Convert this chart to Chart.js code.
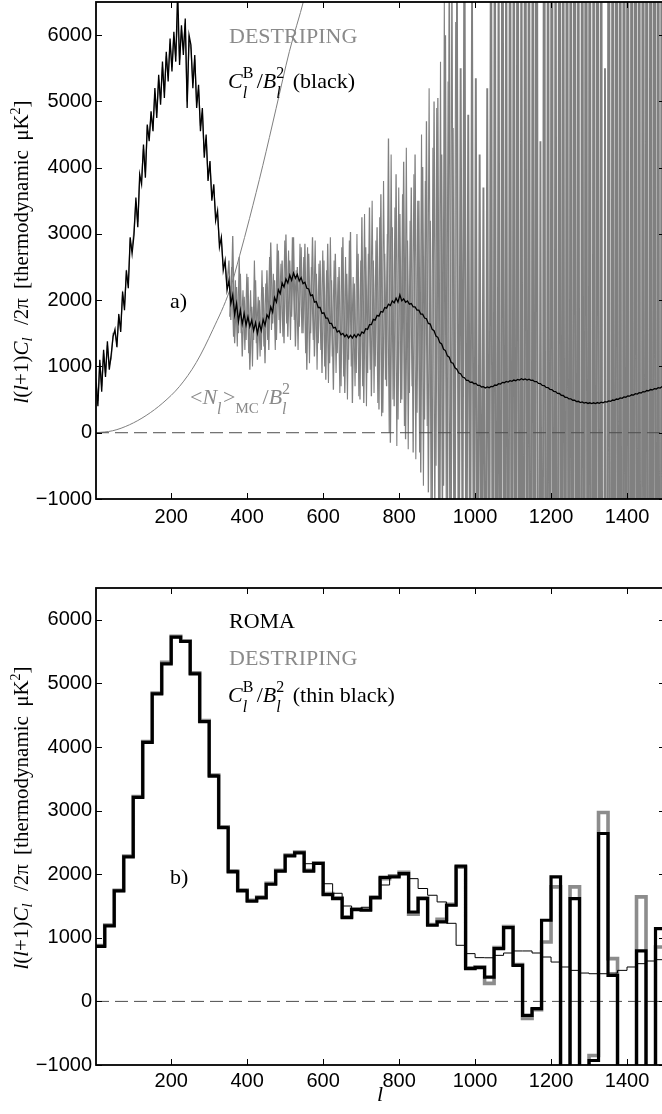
<!DOCTYPE html>
<html lang="en">
<head>
<meta charset="UTF-8">
<meta name="viewport" content="width=device-width, initial-scale=1.0">
<title>Power spectrum: destriping vs ROMA</title>
<script src="https://cdn.jsdelivr.net/npm/chart.js"></script>
<style>
    html, body { margin: 0; padding: 0; background: #fff; overflow: hidden; }
    body { position: relative; width: 662px; height: 1114px; }
    canvas { position: absolute; left: 0; }
    #chartA { top: 0; }
    #chartB { top: 560px; }
    .lbl {
        position: absolute;
        font-family: 'Liberation Serif', 'Times New Roman', serif;
        font-size: 22px;
        line-height: 22px;
        white-space: nowrap;
        color: #000;
    }
    .grey { color: #8a8a8a; }
    .ss { display: inline-block; position: relative; height: 0; }
    .ss > span { position: absolute; left: 0; font-size: 16px; line-height: 16px; }
    .ss .up { bottom: 7px; }
    .ss .dn { bottom: -13px; }
    .ss .mc { bottom: -12px; font-size: 15px; line-height: 15px; }
    .ylab {
        position: absolute;
        font-family: 'Liberation Serif', 'Times New Roman', serif;
        font-size: 21px;
        line-height: 21px;
        word-spacing: 4px;
        white-space: nowrap;
        transform: translate(-50%, -50%) rotate(-90deg);
    }
    .ylab .sb { font-size: 15px; vertical-align: -4px; margin-right: 3px; }
    .ylab .sp { font-size: 14px; vertical-align: 8px; }
</style>
</head>
<body>
    <canvas id="chartA" width="668" height="545"></canvas>
    <canvas id="chartB" width="668" height="554"></canvas>

    <!-- panel a) -->
    <div class="lbl grey" style="left:229px; top:25px">DESTRIPING</div>
    <div class="lbl" style="left:228px; top:70px"><i>C</i><span class="ss" style="width:14px"><span class="up">B</span><span class="dn"><i>l</i></span></span>/<i>B</i><span class="ss" style="width:11px"><span class="up">2</span><span class="dn"><i>l</i></span></span> (black)</div>
    <div class="lbl" style="left:170px; top:290px">a)</div>
    <div class="lbl grey" style="left:190px; top:386px">&lt;<i>N</i><span class="ss" style="width:6px"><span class="dn"><i>l</i></span></span>&gt;<span class="ss" style="width:27px"><span class="mc">MC</span></span>/<i>B</i><span class="ss" style="width:10px"><span class="up">2</span><span class="dn"><i>l</i></span></span></div>
    <div class="ylab" style="left:21px; top:252px"><i>l</i>(<i>l</i>+1)<i>C</i><span class="sb"><i>l</i></span> /2π [thermodynamic μK<span class="sp">2</span>]</div>

    <!-- panel b) -->
    <div class="lbl" style="left:229px; top:610px">ROMA</div>
    <div class="lbl grey" style="left:229px; top:647px">DESTRIPING</div>
    <div class="lbl" style="left:228px; top:684px"><i>C</i><span class="ss" style="width:14px"><span class="up">B</span><span class="dn"><i>l</i></span></span>/<i>B</i><span class="ss" style="width:11px"><span class="up">2</span><span class="dn"><i>l</i></span></span> (thin black)</div>
    <div class="lbl" style="left:170px; top:866px">b)</div>
    <div class="ylab" style="left:21px; top:818px"><i>l</i>(<i>l</i>+1)<i>C</i><span class="sb"><i>l</i></span> /2π [thermodynamic μK<span class="sp">2</span>]</div>
    <div class="lbl" style="left:377px; top:1083px"><i>l</i></div>

    <script>
        // axes
        const lMin = 2, lMax = 1500;
        const yMin = -1000, yMax = 6500;
        const xTicks = [200, 400, 600, 800, 1000, 1200, 1400];
        const yTicks = [-1000, 0, 1000, 2000, 3000, 4000, 5000, 6000];

        // panel a): unbinned spectra, one value every 5 multipoles from l = 2
        const lStart = 2, lStep = 5;
        const cbTop = [
            760, 400, 1100, 620, 1250, 840, 1380, 950, 1180, 1450,
            1560, 1290, 1790, 1520, 2130, 1850, 2450, 2180, 2950, 2700,
            2980, 3550, 3100, 3900, 3750, 4350, 3850, 4650, 4400, 4850,
            4550, 5200, 4750, 5400, 4950, 5600, 5050, 5750, 5300, 5950,
            5450, 6050, 5600, 6700, 5550, 6150, 5700, 6250, 4900, 6000,
            5850, 5200, 5700, 4900, 5250, 4550, 4900, 4150, 4500, 3800,
            4100, 3500, 3750, 3200, 3350, 2800, 2950, 2450, 2600, 2150,
            2300, 1950, 2080, 1780, 1950, 1680, 1850, 1640, 1800, 1620,
            1750, 1600, 1700, 1540, 1660, 1500, 1650, 1540, 1710, 1620,
            1780, 1730, 1900, 1820, 2040, 1970, 2160, 2100, 2260, 2200,
            2320, 2260, 2380, 2300, 2410, 2330, 2390, 2290, 2340, 2250,
            2270, 2180, 2170, 2070, 2080, 1970, 1980, 1890, 1890, 1800,
            1810, 1730, 1730, 1650, 1650, 1580, 1590, 1520, 1540, 1480,
            1500, 1450, 1480, 1430, 1470, 1430, 1480, 1440, 1490, 1460,
            1520, 1500, 1570, 1560, 1630, 1630, 1710, 1700, 1770, 1760,
            1830, 1820, 1890, 1880, 1940, 1920, 1990, 1960, 2030, 1970,
            2080, 1990, 2020, 1970, 1990, 1940, 1950, 1900, 1900, 1850,
            1850, 1790, 1790, 1730, 1720, 1650, 1640, 1560, 1540, 1460,
            1440, 1360, 1340, 1260, 1240, 1160, 1140, 1060, 1050, 980,
            960, 900, 890, 840, 830, 790, 790, 760, 765, 740,
            745, 715, 715, 690, 695, 675, 690, 680, 700, 695,
            720, 715, 740, 735, 760, 755, 775, 765, 785, 775,
            795, 785, 805, 795, 815, 800, 812, 795, 808, 790,
            792, 770, 772, 745, 742, 715, 712, 684, 682, 655,
            652, 625, 622, 594, 592, 565, 562, 535, 535, 510,
            512, 490, 492, 470, 475, 456, 464, 447, 457, 442,
            452, 440, 452, 440, 455, 444, 461, 452, 470, 462,
            481, 474, 494, 488, 509, 504, 525, 520, 541, 536,
            557, 552, 573, 568, 589, 584, 605, 600, 621, 616,
            637, 632, 652, 646, 666, 660, 680, 674, 695, 690
        ];
        const destripingTop = [
            820, 480, 1050, 700, 1200, 900, 1320, 1010, 1120, 1500,
            1500, 1350, 1740, 1600, 2080, 1920, 2400, 2250, 2880, 2780,
            3050, 3480, 3180, 3820, 3830, 4280, 3930, 4580, 4480, 4780,
            4620, 5120, 4830, 5330, 5030, 5520, 5140, 5680, 5380, 5870,
            5520, 5980, 5680, 6300, 5630, 6080, 5780, 6180, 5000, 5930,
            5780, 5280, 5630, 4980, 5180, 4630, 4830, 4230, 4430, 3880,
            4030, 3580, 3680, 3280, 3280, 2880, 2880, 2530, 2530, 2230,
            2600, 1700, 2970, 1350, 2200, 1500, 2400, 1150, 2050, 1400,
            2350, 950, 1900, 1400, 2300, 1100, 2000, 1250, 2200, 1050,
            2450, 1250, 2870, 1650, 2300, 1400, 2750, 1500, 2600, 1350,
            2990, 1450, 2600, 1750, 2950, 1300, 2500, 1600, 2800, 1500,
            2850, 950, 2700, 1500, 2950, 1150, 2400, 1350, 2600, 900,
            2600, 800, 2850, 1050, 2300, 650, 2700, 1200, 2500, 700,
            2950, 600, 2400, 1100, 3030, 450, 2250, 900, 2700, 500,
            3250, 450, 2800, 900, 3400, 550, 2600, 1000, 3100, 350,
            3600, 300, 2700, 700, 4440, -150, 3100, 400, 3900, 200,
            3300, 500, 4090, -100, 2900, 600, 3700, -300, 4200, 300,
            3500, -600, 4010, 200, 4700, -900, 3200, -1300, 5000, -500,
            5050, -1800, 4200, -800, 6000, -2200, 7200, -1500, 4600, -2600,
            7000, -3000, 5500, -2000, 8000, -3500, 4800, -2800, 6500, -4000,
            5350, -5000, 4200, -3500, 3700, -6000, 5200, -4500, 9000, -7000,
            9000, -8000, 7500, -9000, 12000, -7500, 8500, -10000, 11000, -8500,
            10000, -9000, 13000, -11000, 9000, -12000, 14000, -9500, 11000, -13000,
            12000, -10000, 15000, -12000, 4400, -9000, 13000, -14000, 11000, -10500,
            14000, -12000, 10000, -15000, 16000, -11000, 12000, -13000, 15000, -12500,
            13000, -14000, 17000, -12000, 11000, -16000, 14000, -13000, 18000, -15000,
            15000, -17000, 12000, -14000, 19000, -16000, 13000, -18000, 5500, -15000,
            17000, -19000, 14000, -16000, 20000, -18000, 16000, -20000, 18000, -17000,
            19000, -21000, 16000, -18000, 22000, -20000, 17000, -22000, 20000, -19000,
            21000, -23000, 18000, -20000, 24000, -22000, 19000, -24000, 22000, -21000
        ];

        // extra destriping samples in the noisy mid range, l = 354, 359, ..., 949
        const lMidStart = 354;
        const destripingMid = [
            1750, 2500, 1450, 2300, 1300, 2650, 1500, 2150, 1250, 2400,
            1200, 2150, 1000, 2600, 1350, 2050, 1150, 2450, 1300, 2250,
            1400, 2650, 1550, 2400, 1250, 2850, 1700, 2550, 1450, 2900,
            1650, 2750, 1400, 2950, 1700, 2450, 1250, 2850, 1500, 2650,
            1200, 2800, 1050, 2500, 1400, 2900, 950, 2550, 1250, 2750,
            1000, 2450, 750, 2950, 1150, 2600, 900, 2350, 600, 2800,
            850, 2650, 500, 2900, 1000, 2350, 700, 3000, 550, 2600,
            700, 3300, 400, 2700, 950, 3500, 600, 2900, 450, 3250,
            250, 3800, 800, 3000, 0, 4200, 500, 3400, -200, 3700,
            450, 3600, 100, 4300, -250, 3200, 700, 3900, -400, 3500,
            -300, 4500, -800, 3800, 100, 5200, -1100, 4300, -1500, 4900,
            -1200, 5600, -2000, 6500, -1000, 5300, -2400, 7500, -1700, 6200
        ];

        // noise estimate <N_l>_MC / B_l^2
        const lNoise = [2, 46, 90, 134, 178, 222, 266, 310, 354, 380, 406, 441, 476, 511, 550, 580];
        const noiseMC = [0, 30, 120, 260, 450, 700, 1060, 1560, 2150, 2670, 3230, 4030, 4890, 5750, 6550, 7300];

        // zero reference
        const zeroL = [2, 1500];
        const zeroV = [0, 0];

        // panel b): binned spectra (lower edge of each bin)
        const binLow = [
            2, 25, 50, 75, 100, 125, 150, 175, 200, 225,
            250, 275, 300, 325, 350, 375, 400, 425, 450, 475,
            500, 525, 550, 575, 600, 625, 650, 675, 700, 725,
            750, 775, 800, 825, 850, 875, 900, 925, 950, 975,
            1000, 1025, 1050, 1075, 1100, 1125, 1150, 1175, 1200, 1225,
            1250, 1275, 1300, 1325, 1350, 1375, 1400, 1425, 1450, 1475
        ];
        const romaB = [
            866, 1186, 1737, 2273, 3207, 4073, 4835, 5307, 5727, 5659,
            5150, 4399, 3543, 2730, 2037, 1737, 1575, 1627, 1842, 2047,
            2289, 2336, 2047, 2168, 1680, 1617, 1318, 1444, 1433, 1627,
            1950, 1958, 2010, 1406, 1617, 1197, 1249, 1512, 2126, 514,
            530, 383, 829, 1160, 567, -220, -115, 1276, 1958, -3000,
            1617, -3000, -929, 2640, 409, -3000, -3000, 793, -3000, 1144
        ];
        const destripingB = [
            880, 1200, 1745, 2285, 3220, 4085, 4850, 5330, 5740, 5670,
            5165, 4415, 3560, 2745, 2050, 1750, 1590, 1640, 1855, 2060,
            2300, 2350, 2060, 2180, 1695, 1630, 1330, 1455, 1445, 1640,
            1930, 1975, 2030, 1370, 1630, 1210, 1291, 1525, 2110, 530,
            545, 283, 845, 1175, 580, -270, -130, 934, 1800, -3000,
            1800, -3000, -850, 2971, 672, -3000, -3000, 1643, -3000, 855
        ];
        const thinB = [
            870, 1190, 1740, 2270, 3200, 4070, 4830, 5300, 5720, 5650,
            5160, 4410, 3560, 2750, 2060, 1760, 1590, 1640, 1850, 2050,
            2290, 2330, 2165, 2170, 1850, 1700, 1500, 1440, 1480, 1650,
            1830, 1950, 1990, 1930, 1775, 1669, 1564, 1228, 882, 751,
            688, 686, 724, 761, 793, 793, 761, 698, 619, 541,
            488, 446, 435, 435, 446, 488, 541, 593, 635, 656
        ];

        const lGrid = cbTop.map((_, i) => lStart + i * lStep);
        const lMidGrid = destripingMid.map((_, i) => lMidStart + i * lStep);

        function pts(xs, ys) {
            return xs.map((x, i) => ({ x: x, y: ys[i] }));
        }

        function stepPts(vals) {
            const p = binLow.map((l, i) => ({ x: l, y: vals[i] }));
            p.push({ x: lMax, y: vals[vals.length - 1] });
            return p;
        }

        function fmtTick(v) {
            return v < 0 ? '\u2212' + Math.abs(v) : String(v);
        }

        const tickFont = { family: "'Liberation Sans', Arial, sans-serif", size: 20 };

        // box around the plot with inward ticks on all four sides
        const frame = {
            id: 'frame',
            afterDraw(chart) {
                const ctx = chart.ctx;
                const a = chart.chartArea;
                const x = chart.scales.x, y = chart.scales.y;
                ctx.save();
                ctx.strokeStyle = '#000';
                ctx.lineWidth = 1;
                ctx.beginPath();
                xTicks.forEach(v => {
                    const px = Math.round(x.getPixelForValue(v)) + 0.5;
                    ctx.moveTo(px, a.bottom); ctx.lineTo(px, a.bottom - 6);
                    ctx.moveTo(px, a.top); ctx.lineTo(px, a.top + 6);
                });
                yTicks.forEach(v => {
                    const py = Math.round(y.getPixelForValue(v)) + 0.5;
                    ctx.moveTo(a.left, py); ctx.lineTo(a.left + 6, py);
                    ctx.moveTo(a.right, py); ctx.lineTo(a.right - 6, py);
                });
                ctx.stroke();
                ctx.lineWidth = 1.8;
                ctx.strokeRect(a.left, a.top, a.right - a.left, a.bottom - a.top);
                ctx.restore();
            }
        };

        function makePanel(id, datasets, padTop, xAxisHeight, xLabelPad) {
            return new Chart(document.getElementById(id), {
                type: 'line',
                data: { datasets: datasets },
                options: {
                    responsive: false,
                    animation: false,
                    events: [],
                    layout: { padding: { top: padTop, right: 3, left: 0, bottom: 0 } },
                    elements: { point: { radius: 0 }, line: { tension: 0, fill: false } },
                    plugins: { legend: { display: false }, tooltip: { enabled: false } },
                    scales: {
                        x: {
                            type: 'linear', min: lMin, max: lMax,
                            grid: { display: false, drawTicks: false },
                            border: { display: false },
                            ticks: { font: tickFont, color: '#000', padding: xLabelPad, maxRotation: 0, autoSkip: false, callback: v => fmtTick(v) },
                            afterBuildTicks: s => { s.ticks = xTicks.map(v => ({ value: v })); },
                            afterFit: s => { s.height = xAxisHeight; s.paddingLeft = 0; s.paddingRight = 0; }
                        },
                        y: {
                            type: 'linear', min: yMin, max: yMax,
                            grid: { display: false, drawTicks: false },
                            border: { display: false },
                            ticks: { font: tickFont, color: '#000', padding: 4, callback: v => fmtTick(v) },
                            afterBuildTicks: s => { s.ticks = yTicks.map(v => ({ value: v })); },
                            afterFit: s => { s.width = 96; s.paddingTop = 0; s.paddingBottom = 0; }
                        }
                    }
                },
                plugins: [frame]
            });
        }

        makePanel('chartA', [
            { label: 'C_l^B/B_l^2', data: pts(lGrid, cbTop), borderColor: '#000', borderWidth: 1.3, order: 0 },
            { label: 'zero', data: pts(zeroL, zeroV), borderColor: '#4d4d4d', borderWidth: 1, borderDash: [13, 6], order: 1 },
            { label: '<N_l>_MC/B_l^2', data: pts(lNoise, noiseMC), borderColor: '#7f7f7f', borderWidth: 1, cubicInterpolationMode: 'monotone', order: 2 },
            {
                label: 'DESTRIPING', data: pts(lGrid, destripingTop), borderColor: '#808080', borderWidth: 1.3, order: 3,
                // the noisy high-l end is drawn a bit heavier, as in the original
                segment: { borderWidth: c => c.p0.parsed.x >= 950 ? 1.9 : 1.3 }
            },
            { label: 'DESTRIPING (mid l)', data: pts(lMidGrid, destripingMid), borderColor: '#808080', borderWidth: 1.1, order: 4 }
        ], 2, 46, 6);

        makePanel('chartB', [
            { label: 'C_l^B/B_l^2', data: stepPts(thinB), borderColor: '#000', borderWidth: 1, stepped: true, order: 0 },
            { label: 'ROMA', data: stepPts(romaB), borderColor: '#000', borderWidth: 3.2, stepped: true, borderJoinStyle: 'miter', order: 1 },
            { label: 'zero', data: pts(zeroL, zeroV), borderColor: '#4d4d4d', borderWidth: 1, borderDash: [13, 6], order: 2 },
            { label: 'DESTRIPING', data: stepPts(destripingB), borderColor: '#8c8c8c', borderWidth: 3.6, stepped: true, borderJoinStyle: 'miter', order: 3 }
        ], 28, 49, 4);
    </script>
</body>
</html>
